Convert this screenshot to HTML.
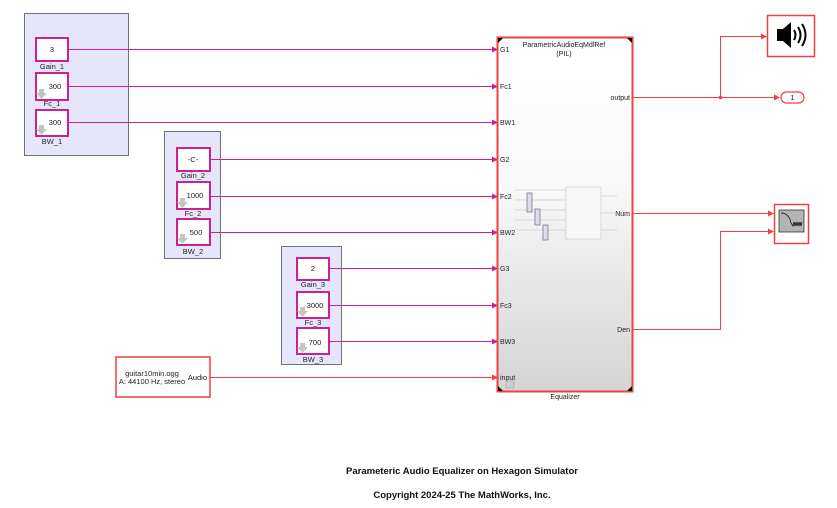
<!DOCTYPE html>
<html><head><style>
body{margin:0;background:#fff}
svg{display:block;font-family:"Liberation Sans",sans-serif}
</style></head><body>
<svg width="837" height="508" viewBox="0 0 837 508" xmlns="http://www.w3.org/2000/svg">
<defs>
<marker id="am" markerWidth="6" markerHeight="6" refX="5" refY="3" orient="auto" markerUnits="userSpaceOnUse"><path d="M0,0L6,3L0,6z" fill="#d02090"/></marker>
<marker id="ar" markerWidth="6" markerHeight="6" refX="5" refY="3" orient="auto" markerUnits="userSpaceOnUse"><path d="M0,0L6,3L0,6z" fill="#f04040"/></marker>
<linearGradient id="g" x1="0" y1="0" x2="0" y2="1"><stop offset="0" stop-color="#fff"/><stop offset="0.4" stop-color="#fafafa"/><stop offset="1" stop-color="#d4d4d4"/></linearGradient>
</defs>
<rect x="24.5" y="13.5" width="104" height="142" fill="#e6e6fa" stroke="#707080"/>
<rect x="164.5" y="131.5" width="56" height="127" fill="#e6e6fa" stroke="#707080"/>
<rect x="281.5" y="246.5" width="60" height="118" fill="#e6e6fa" stroke="#707080"/>
<g fill="#fff" stroke="#d02090" stroke-width="2">
<rect x="36" y="38" width="32" height="23"/><rect x="36" y="73" width="32" height="27"/><rect x="36" y="110" width="32" height="26"/>
<rect x="177" y="148" width="33" height="23"/><rect x="177" y="182" width="33" height="27"/><rect x="177" y="219" width="33" height="26"/>
<rect x="297" y="258" width="32" height="22"/><rect x="297" y="292" width="32" height="26"/><rect x="297" y="328" width="32" height="26"/>
</g>
<g font-size="7.5" fill="#222" text-anchor="middle">
<text x="52" y="52">3</text><text x="55" y="89">300</text><text x="55" y="125">300</text>
<text x="193" y="162">-C-</text><text x="195" y="198">1000</text><text x="196" y="235">500</text>
<text x="313" y="271">2</text><text x="315" y="308">3000</text><text x="315" y="345">700</text>
<text x="52" y="69">Gain_1</text><text x="52" y="106">Fc_1</text><text x="52" y="144">BW_1</text>
<text x="193" y="178">Gain_2</text><text x="193" y="216">Fc_2</text><text x="193" y="254">BW_2</text>
<text x="313" y="287">Gain_3</text><text x="313" y="325">Fc_3</text><text x="313" y="362">BW_3</text>
</g>
<g fill="#c4c4c4">
<path d="M39,89h5v4h3l-5.5,6l-5.5,-6h3z"/><path d="M39,125h5v4h3l-5.5,6l-5.5,-6h3z"/>
<path d="M180,198h5v4h3l-5.5,6l-5.5,-6h3z"/><path d="M180,234h5v4h3l-5.5,6l-5.5,-6h3z"/>
<path d="M300,307h5v4h3l-5.5,6l-5.5,-6h3z"/><path d="M300,343h5v4h3l-5.5,6l-5.5,-6h3z"/>
</g>
<g stroke="#d02090" stroke-width="1" marker-end="url(#am)">
<line x1="69" y1="49.5" x2="497" y2="49.5"/><line x1="69" y1="86.5" x2="497" y2="86.5"/><line x1="69" y1="122.5" x2="497" y2="122.5"/>
<line x1="211" y1="159.5" x2="497" y2="159.5"/><line x1="211" y1="196.5" x2="497" y2="196.5"/><line x1="211" y1="232.5" x2="497" y2="232.5"/>
<line x1="330" y1="268.5" x2="497" y2="268.5"/><line x1="330" y1="305.5" x2="497" y2="305.5"/><line x1="330" y1="341.5" x2="497" y2="341.5"/>
</g>
<rect x="116" y="357" width="94" height="40" fill="#fff" stroke="#f04040" stroke-width="1.5"/>
<g font-size="7.5" fill="#222" text-anchor="middle"><text x="152" y="376">guitar10min.ogg</text><text x="152" y="384">A: 44100 Hz, stereo</text></g>
<text x="207" y="380" font-size="7.5" fill="#222" text-anchor="end">Audio</text>
<g stroke="#f04040" stroke-width="1" fill="none">
<line x1="210" y1="377.5" x2="497" y2="377.5" marker-end="url(#ar)"/>
<line x1="632" y1="97.5" x2="779" y2="97.5" marker-end="url(#ar)"/>
<polyline points="720.5,97.5 720.5,36.5 766,36.5" marker-end="url(#ar)"/>
<line x1="632" y1="213.5" x2="773" y2="213.5" marker-end="url(#ar)"/>
<polyline points="632,329.5 720.5,329.5 720.5,231.5 773,231.5" marker-end="url(#ar)"/>
</g>
<circle cx="720.5" cy="97.5" r="1.8" fill="#f04040"/>
<rect x="497.5" y="37.5" width="135" height="354" fill="url(#g)" stroke="#f04040" stroke-width="2"/>
<path d="M498,38h5l-5,5z M632,38h-5l5,5z M498,391h5l-5,-5z M632,391h-5l5,-5z" fill="#000"/>
<g font-size="7" fill="#222">
<text x="564" y="47" text-anchor="middle">ParametricAudioEqMdlRef</text><text x="564" y="56" text-anchor="middle">(PIL)</text>
<text x="500" y="52">G1</text><text x="500" y="89">Fc1</text><text x="500" y="125">BW1</text>
<text x="500" y="162">G2</text><text x="500" y="199">Fc2</text><text x="500" y="235">BW2</text>
<text x="500" y="271">G3</text><text x="500" y="308">Fc3</text><text x="500" y="344">BW3</text><text x="500" y="380">input</text>
<text x="630" y="100" text-anchor="end">output</text><text x="630" y="216" text-anchor="end">Num</text><text x="630" y="332" text-anchor="end">Den</text>
<text x="565" y="399" text-anchor="middle">Equalizer</text>
</g>
<g stroke="#bbb" stroke-width="0.5" fill="#f8f8f8">
<rect x="566" y="187" width="35" height="52"/>
<line x1="515" y1="190" x2="566" y2="190"/><line x1="515" y1="200" x2="566" y2="200"/><line x1="515" y1="210" x2="566" y2="210"/><line x1="515" y1="220" x2="566" y2="220"/><line x1="515" y1="230" x2="566" y2="230"/>
<line x1="601" y1="196" x2="617" y2="196"/><line x1="601" y1="213" x2="617" y2="213"/><line x1="601" y1="230" x2="617" y2="230"/>
</g>
<g fill="#dde" stroke="#778" stroke-width="0.8">
<rect x="527" y="193" width="5" height="19"/><rect x="535" y="209" width="5" height="16"/><rect x="543" y="225" width="5" height="15"/>
</g>
<rect x="506" y="381" width="8" height="7" fill="#ccd" stroke="#999" stroke-width="0.5"/>
<rect x="767.5" y="15.5" width="47" height="41" fill="#fff" stroke="#f04040" stroke-width="1.5"/>
<path d="M777,29h6l8,-7v26l-8,-7h-6z" fill="#000"/>
<g fill="none" stroke="#000" stroke-width="2"><path d="M794,30q3,5 0,10"/><path d="M798,27q5,8 0,16"/><path d="M802,24q7,11 0,22"/></g>
<rect x="781" y="92" width="23" height="11" rx="5.5" fill="#fff" stroke="#f04040" stroke-width="1.2"/>
<text x="792.5" y="100" font-size="7" text-anchor="middle" fill="#222">1</text>
<rect x="774.5" y="204.5" width="34" height="39" fill="#fff" stroke="#f04040" stroke-width="1.5"/>
<rect x="779" y="210" width="25" height="22" fill="#b4b4b4" stroke="#333" stroke-width="0.8"/>
<path d="M781,213q8,0 10,10l2,3l1,-4l1,4l1,-4l1,4l1,-4l1,4l1,-4l1,4l1,-4" fill="none" stroke="#000" stroke-width="0.7"/>
<g font-size="9.5" font-weight="bold" fill="#111" text-anchor="middle">
<text x="462" y="474">Parameteric Audio Equalizer on Hexagon Simulator</text>
<text x="462" y="498">Copyright 2024-25 The MathWorks, Inc.</text>
</g>
</svg>
</body></html>
